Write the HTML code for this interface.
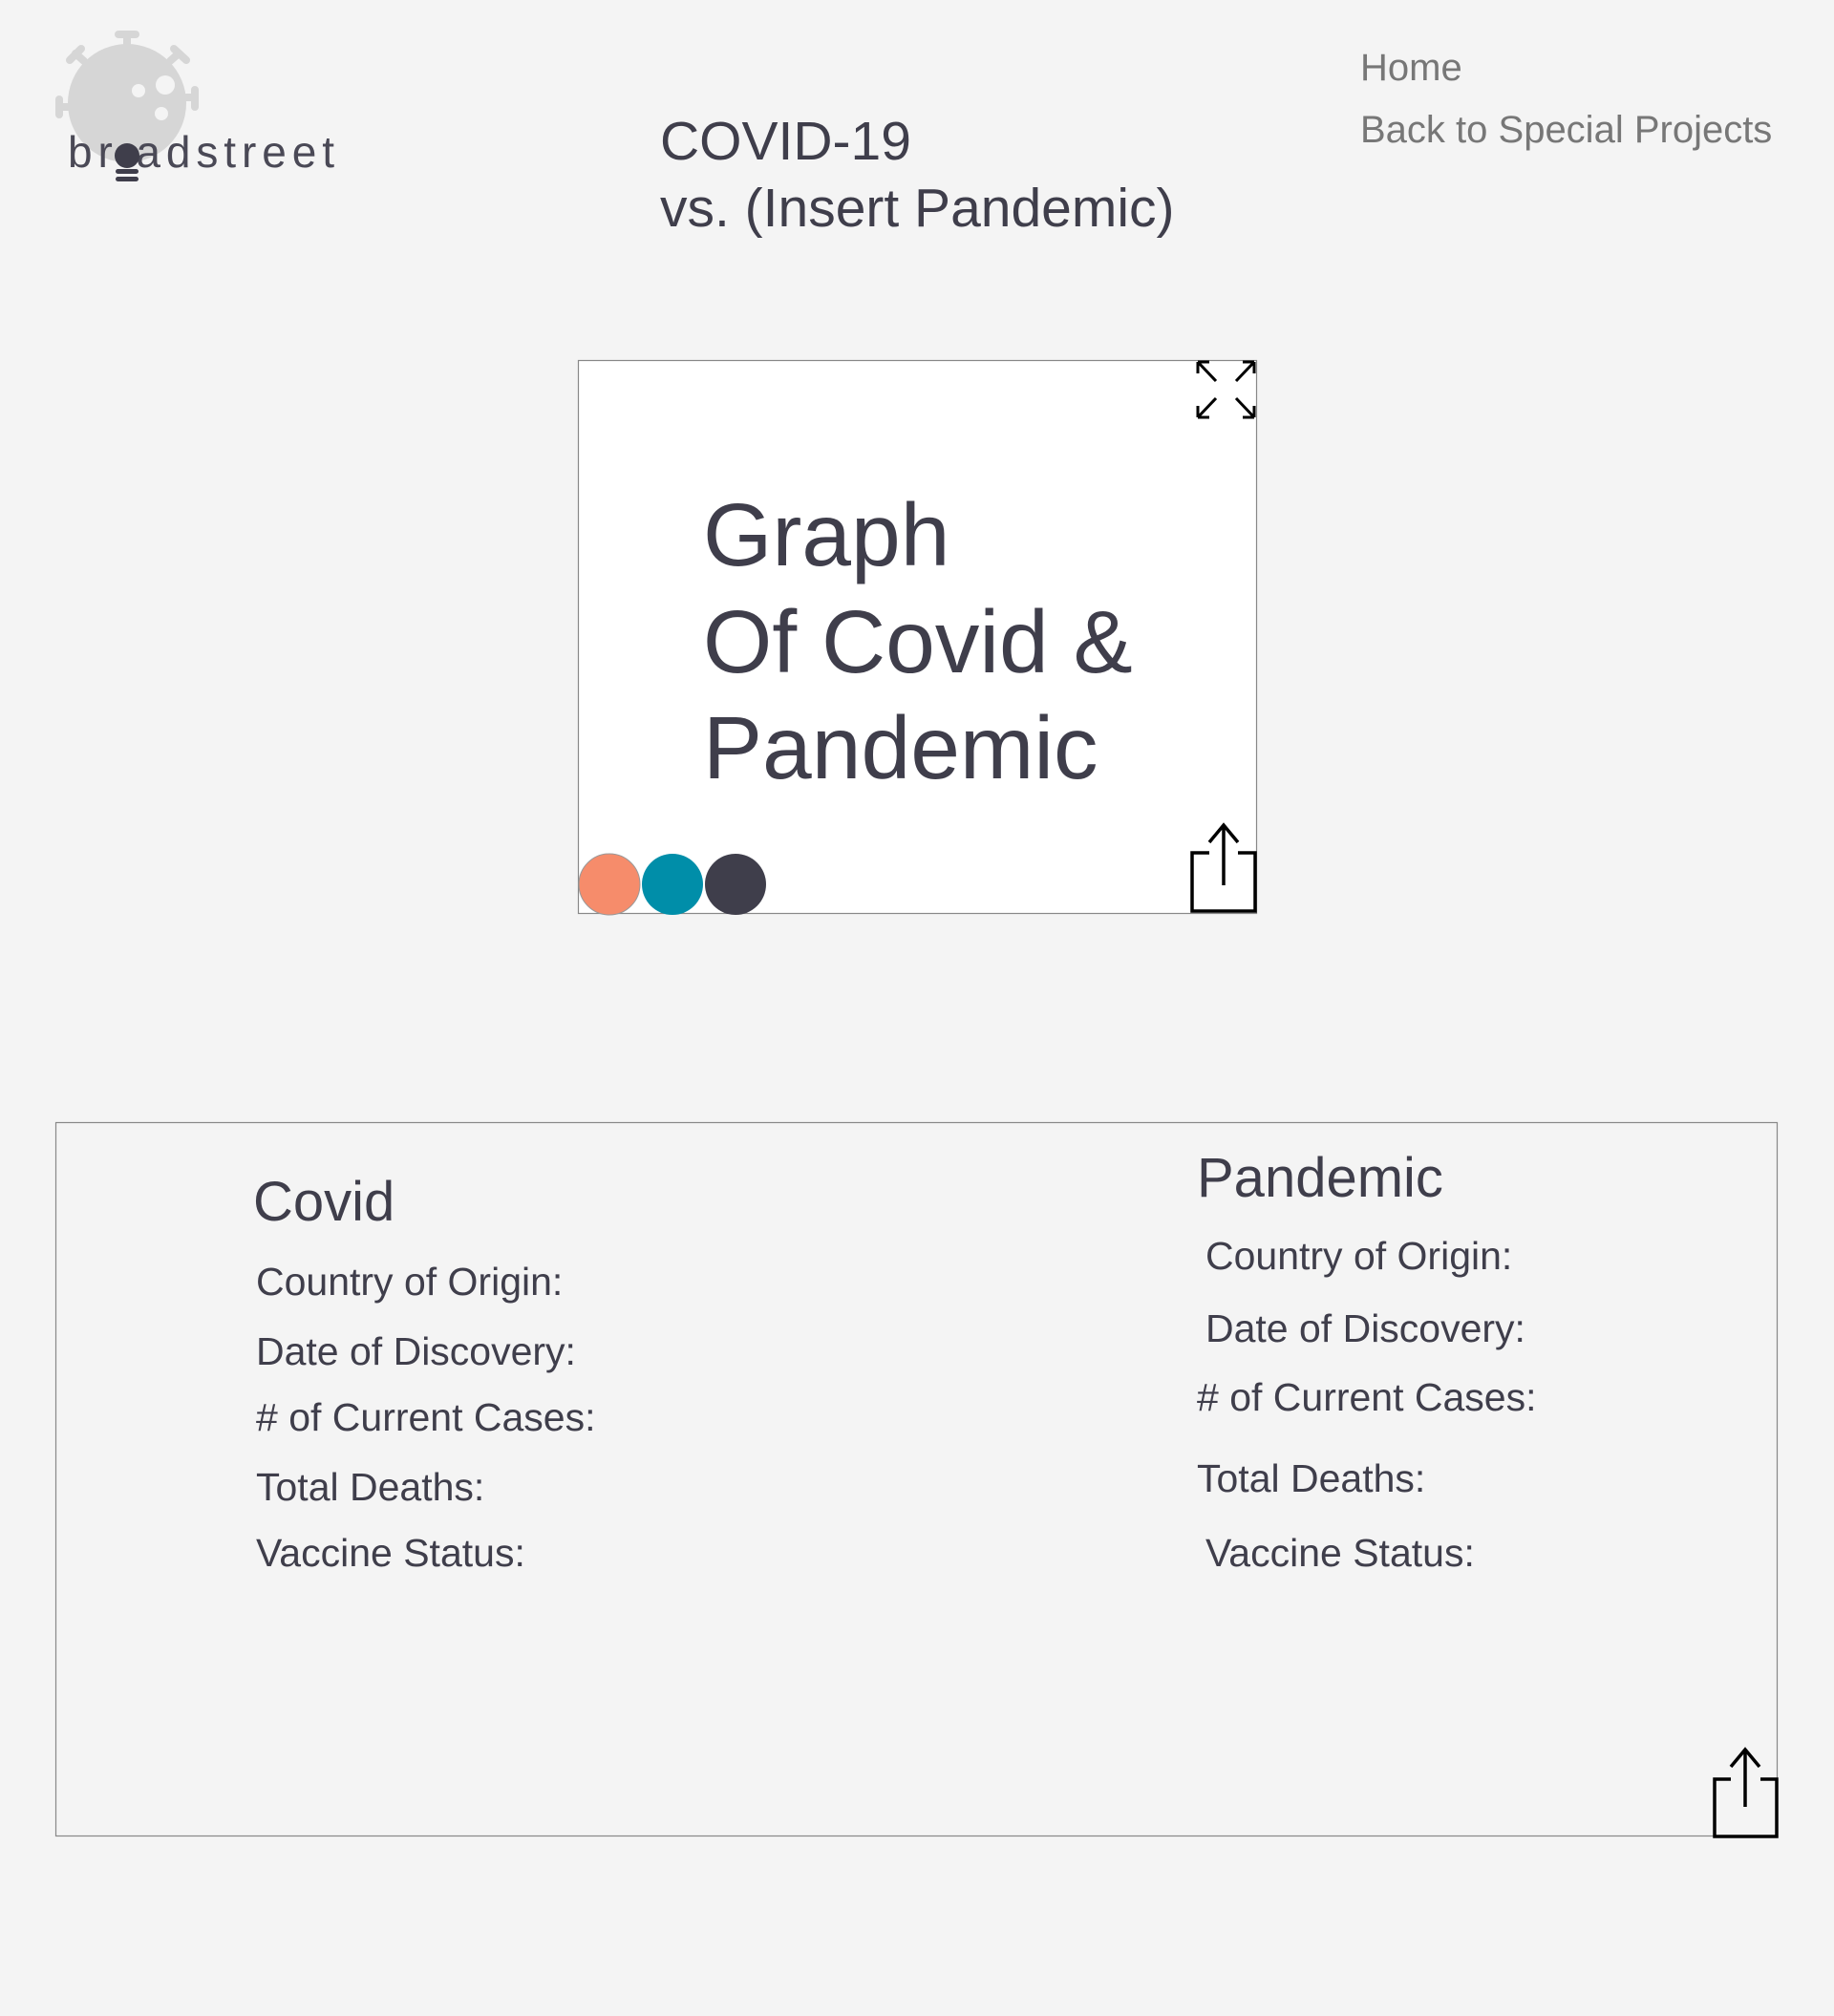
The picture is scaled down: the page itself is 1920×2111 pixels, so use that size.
<!DOCTYPE html>
<html><head><meta charset="utf-8"><style>
html,body{margin:0;padding:0;background:#f4f4f4;}
svg{display:block}
text{font-family:"Liberation Sans",sans-serif;fill:#3f3e4b}
</style></head><body>
<svg width="1920" height="2111" viewBox="0 0 1920 2111" xmlns="http://www.w3.org/2000/svg">
<rect width="1920" height="2111" fill="#f4f4f4"/>
<!-- logo -->
<g fill="#d6d6d6" stroke="#d6d6d6">
<circle cx="133" cy="108" r="62" stroke="none"/>
<g stroke-width="8" stroke-linecap="round">
<line x1="133" y1="46" x2="133" y2="36"/><line x1="124" y1="36" x2="142" y2="36"/>
<line x1="88" y1="64" x2="79" y2="56"/><line x1="73" y1="63" x2="85" y2="51"/>
<line x1="178" y1="64" x2="187" y2="56"/><line x1="182" y1="51" x2="195" y2="63"/>
<line x1="71" y1="112" x2="62" y2="112"/><line x1="62" y1="104" x2="62" y2="120"/>
<line x1="195" y1="102" x2="204" y2="102"/><line x1="204" y1="94" x2="204" y2="112"/>
</g></g>
<circle cx="145" cy="95" r="7" fill="#f4f4f4"/>
<circle cx="173" cy="89" r="10" fill="#f4f4f4"/>
<circle cx="169" cy="119" r="7" fill="#f4f4f4"/>
<text x="71" y="175" font-size="46" textLength="279" lengthAdjust="spacing" style="fill:#4a4956">br adstreet</text>
<circle cx="133" cy="163" r="13" fill="#3f3e4b"/>
<rect x="121" y="177" width="24" height="5" rx="2.5" fill="#3f3e4b"/>
<rect x="121" y="185" width="24" height="5" rx="2.5" fill="#3f3e4b"/>
<!-- title -->
<text x="691" y="167" font-size="57">COVID-19</text>
<text x="691" y="237" font-size="57">vs. (Insert Pandemic)</text>
<!-- nav -->
<text x="1424" y="84" font-size="40" style="fill:#777">Home</text>
<text x="1424" y="149" font-size="40" style="fill:#777">Back to Special Projects</text>
<!-- graph card -->
<rect x="605.5" y="377.5" width="710" height="579" fill="#fff" stroke="#888" stroke-width="1.2"/>
<text x="736" y="592" font-size="93">Graph</text>
<text x="736" y="704" font-size="93">Of Covid &amp;</text>
<text x="736" y="815" font-size="93">Pandemic</text>
<circle cx="638" cy="926" r="32" fill="#f68c6b" stroke="#999" stroke-width="1"/>
<circle cx="704" cy="926" r="32" fill="#008ea9"/>
<circle cx="770" cy="926" r="32" fill="#3f3e4b"/>
<g stroke="#000" stroke-width="3" fill="none">
<path d="M1254 379 L1273 399 M1254 379 L1254 391 M1254 379 L1266 379"/>
<path d="M1313 379 L1294 399 M1313 379 L1313 391 M1313 379 L1301 379"/>
<path d="M1254 437 L1273 417 M1254 437 L1254 425 M1254 437 L1266 437"/>
<path d="M1313 437 L1294 417 M1313 437 L1313 425 M1313 437 L1301 437"/>
</g>
<g stroke="#000" stroke-width="3.5" fill="none">
<path d="M1266 893 L1248 893 L1248 954 L1314 954 L1314 893 L1296 893"/>
<path d="M1281 927 L1281 866 M1266 882 L1281 864 L1296 882"/>
</g>
<!-- bottom box -->
<rect x="58.5" y="1175.5" width="1802" height="747" fill="none" stroke="#888" stroke-width="1.2"/>
<text x="265" y="1278" font-size="58">Covid</text>
<g font-size="41">
<text x="268" y="1356">Country of Origin:</text>
<text x="268" y="1429">Date of Discovery:</text>
<text x="268" y="1498">#  of Current Cases:</text>
<text x="268" y="1571">Total Deaths:</text>
<text x="268" y="1640">Vaccine Status:</text>
<text x="1262" y="1329">Country of Origin:</text>
<text x="1262" y="1405">Date of Discovery:</text>
<text x="1253" y="1477">#  of Current Cases:</text>
<text x="1253" y="1562">Total Deaths:</text>
<text x="1262" y="1640">Vaccine Status:</text>
</g>
<text x="1253" y="1253" font-size="58">Pandemic</text>
<g stroke="#000" stroke-width="3.5" fill="none">
<path d="M1812 1863 L1795 1863 L1795 1923 L1860 1923 L1860 1863 L1843 1863"/>
<path d="M1827 1892 L1827 1834 M1812 1850 L1827 1832 L1842 1850"/>
</g>
</svg>
</body></html>
